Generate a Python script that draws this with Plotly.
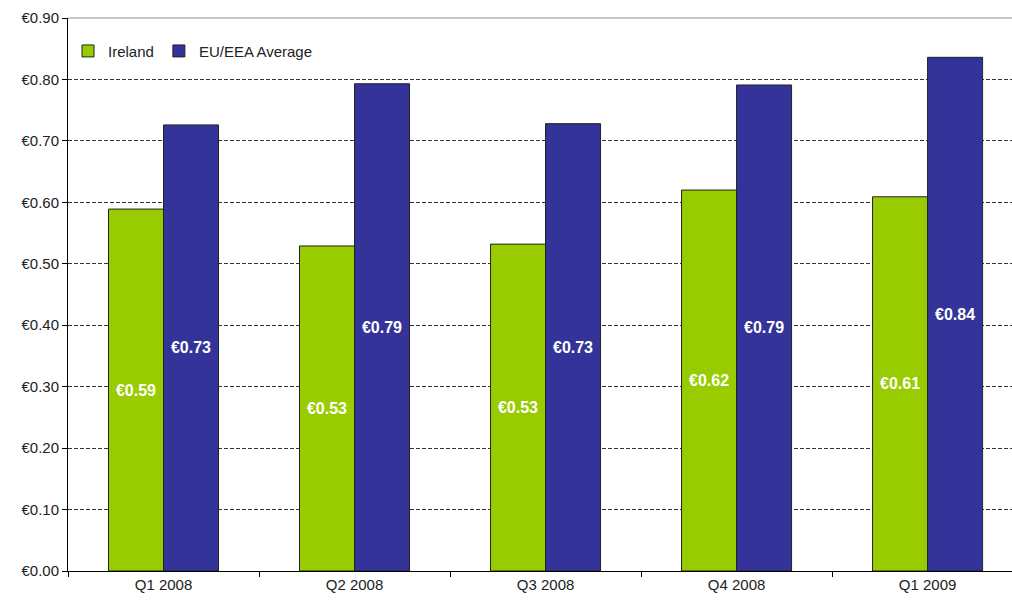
import plotly.graph_objects as go

quarters = ["Q1 2008", "Q2 2008", "Q3 2008", "Q4 2008", "Q1 2009"]
ireland = [0.589, 0.529, 0.532, 0.620, 0.609]
eu_eea_average = [0.726, 0.793, 0.728, 0.791, 0.836]

FONT = "Liberation Sans, Arial, sans-serif"
LABEL_FONT = dict(color="white", size=16, family=FONT, weight="bold")

fig = go.Figure()
fig.add_trace(go.Bar(
    x=quarters, y=ireland, name="Ireland",
    marker=dict(color="#99CC00", line=dict(color="#222222", width=1)),
    texttemplate="€%{y:.2f}", textposition="inside", insidetextanchor="middle",
    textfont=LABEL_FONT, textangle=0,
))
fig.add_trace(go.Bar(
    x=quarters, y=eu_eea_average, name="EU/EEA Average",
    marker=dict(color="#333399", line=dict(color="#222222", width=1)),
    texttemplate="€%{y:.2f}", textposition="inside", insidetextanchor="middle",
    textfont=LABEL_FONT, textangle=0,
))

# plot-area top border
fig.add_shape(type="line", xref="paper", yref="paper", x0=0, x1=1, y0=1, y1=1,
              line=dict(color="#8c8c8c", width=1))

fig.update_layout(
    width=1012, height=604,
    margin=dict(l=68, r=0, t=18, b=33),
    paper_bgcolor="white", plot_bgcolor="white",
    barmode="group", bargap=0.424, bargroupgap=0,
    font=dict(family=FONT, size=15, color="#222222"),
    uniformtext=dict(mode="show", minsize=16),
    legend=dict(
        orientation="h", x=0.0, y=0.94, xanchor="left", yanchor="middle",
        bgcolor="rgba(0,0,0,0)", font=dict(size=15, family=FONT),
        itemwidth=30, traceorder="normal",
    ),
    showlegend=True,
)
fig.update_xaxes(
    range=[-0.5, 4.442],
    showline=True, linecolor="#000000", linewidth=1,
    ticks="outside", tickson="boundaries", ticklen=5, tickcolor="#000000",
    showgrid=False, tickfont=dict(size=15, family=FONT),
)
fig.update_yaxes(
    range=[0, 0.9], dtick=0.1, tickprefix="€", tickformat=".2f",
    showline=True, linecolor="#000000", linewidth=1,
    ticks="outside", ticklen=5, tickcolor="#000000",
    showgrid=True, gridcolor="#333333", griddash="4px,2px", gridwidth=1,
    zeroline=False, tickfont=dict(size=15, family=FONT),
)

fig.write_html("out.html", config={"displayModeBar": False})
